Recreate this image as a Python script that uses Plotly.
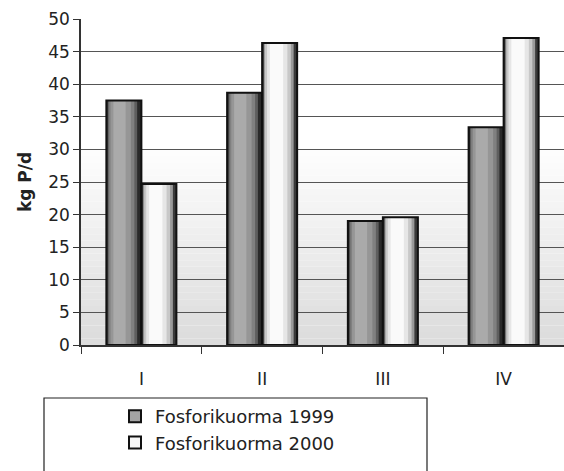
import plotly.graph_objects as go

categories = ["I", "II", "III", "IV"]
load_1999 = [37.5, 38.7, 19.0, 33.4]
load_2000 = [24.7, 46.3, 19.6, 47.1]
series_names = ["Fosforikuorma 1999", "Fosforikuorma 2000"]
y_ticks = [0, 5, 10, 15, 20, 25, 30, 35, 40, 45, 50]

FONT = "DejaVu Sans"
W, H = 564, 471
L, R, T, B = 81, 0, 19, 126
plot_w = W - L - R
plot_h = H - T - B
BW = 0.29  # bar width in category units

# cylinder-like shading layers: (left frac, right frac, colour)
shade_1999 = [(0.0, 1.0, "#2a2a2a"), (0.04, 0.88, "#5e5e5e"), (0.07, 0.80, "#808080"),
              (0.12, 0.70, "#969696"), (0.20, 0.55, "#aaaaaa")]
shade_2000 = [(0.0, 1.0, "#3a3a3a"), (0.05, 0.90, "#9a9a9a"), (0.08, 0.82, "#c8c8c8"),
              (0.14, 0.72, "#e6e6e6"), (0.22, 0.60, "#fafafa")]

fig = go.Figure()

def add_series(values, offset, layers):
    for lf, rf, col in layers:
        fig.add_trace(go.Bar(x=categories, y=values, offset=offset + lf * BW, width=(rf - lf) * BW,
                             marker=dict(color=col, line=dict(width=0)), showlegend=False,
                             hoverinfo="skip"))
    fig.add_trace(go.Bar(x=categories, y=values, offset=offset, width=BW,
                         marker=dict(color="rgba(0,0,0,0)", line=dict(color="#111111", width=2)),
                         showlegend=False))

add_series(load_1999, -BW, shade_1999)
add_series(load_2000, 0.0, shade_2000)

# legend entries
fig.add_trace(go.Bar(x=[None], y=[None], name=series_names[0], legendgroup="a",
                     marker=dict(color="#a4a4a4", line=dict(color="#111111", width=2))))
fig.add_trace(go.Bar(x=[None], y=[None], name=series_names[1], legendgroup="b",
                     marker=dict(color="#f6f6f6", line=dict(color="#111111", width=2))))

# background gradient bands (white at top -> light grey at bottom)
shapes = []
n = 30
for i in range(n):
    t = i / n
    g = int(0xdc + (0xff - 0xdc) * t)
    shapes.append(dict(type="rect", xref="paper", yref="y", x0=0, x1=1, y0=i, y1=i + 1,
                       fillcolor=f"rgb({g},{g},{g})", line=dict(width=0), layer="below"))

def px_to_paper_x(px):
    return (px - L) / plot_w
def px_to_paper_y(py):
    return (H - B - py) / plot_h

shapes.append(dict(type="rect", xref="paper", yref="paper",
                   x0=px_to_paper_x(44), x1=px_to_paper_x(427),
                   y0=px_to_paper_y(490), y1=px_to_paper_y(398),
                   line=dict(color="#222222", width=1.2), fillcolor="rgba(0,0,0,0)"))

fig.update_layout(
    width=W, height=H,
    margin=dict(l=L, r=R, t=T, b=B, pad=0),
    paper_bgcolor="white", plot_bgcolor="white",
    barmode="overlay",
    font=dict(family=FONT, size=17, color="#222222"),
    shapes=shapes,
    legend=dict(x=px_to_paper_x(115), xanchor="left",
                y=px_to_paper_y(398), yanchor="top",
                bgcolor="rgba(0,0,0,0)", borderwidth=0,
                font=dict(family=FONT, size=18, color="#222222"),
                tracegroupgap=0, traceorder="normal"),
    showlegend=True,
)
fig.update_xaxes(type="category", range=[-0.5, 3.5], showgrid=False,
                 showline=True, linecolor="#333333", linewidth=1.5,
                 ticks="outside", tickson="boundaries", ticklen=7, tickcolor="#333333",
                 ticklabelstandoff=18, tickfont=dict(size=17))
fig.update_yaxes(range=[0, 50], tickvals=y_ticks, showgrid=True, gridcolor="#555555", gridwidth=1.3,
                 showline=True, linecolor="#333333", linewidth=1.5,
                 ticks="outside", ticklen=6, tickcolor="#333333", zeroline=False,
                 title=dict(text="<b>kg P/d</b>", font=dict(size=17), standoff=12))
fig.write_html("out.html")
